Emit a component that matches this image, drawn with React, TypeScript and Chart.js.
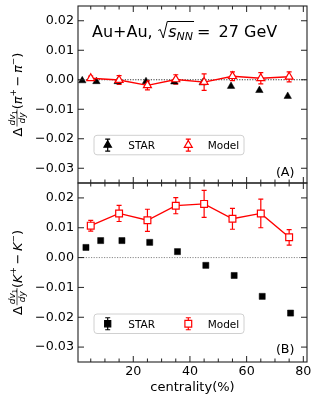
import React, { useEffect, useRef } from "react";
import { Chart, registerables } from "chart.js";
Chart.register(...registerables);

// ---------- data ----------
const centralityModel = [5, 15, 25, 35, 45, 55, 65, 75];
const centralityStarPion = [2, 7, 14.5, 24.5, 34.5, 44.5, 54.5, 64.5, 74.5];
const centralityStarKaon = [3.3, 8.5, 16, 25.8, 35.6, 45.6, 55.6, 65.5, 75.5];

const starPion = [-0.0003, -0.0006, -0.0006, -0.0006, -0.0007, -0.001, -0.0022, -0.0036, -0.0056];
const modelPion = [0.0005, -0.0001, -0.0019, 0.0001, -0.0008, 0.0012, 0.0005, 0.001];
const modelPionErr = [0.0007, 0.0015, 0.0015, 0.0016, 0.0028, 0.0015, 0.0019, 0.0017];

const starKaon = [0.0034, 0.0057, 0.0057, 0.0051, 0.002, -0.0026, -0.006, -0.013, -0.0186];
const modelKaon = [0.0107, 0.0148, 0.0125, 0.0174, 0.018, 0.013, 0.0148, 0.0068];
const modelKaonErr = [0.0018, 0.0027, 0.0037, 0.0027, 0.0045, 0.0035, 0.0048, 0.0026];

const xMinorTicks = [5, 10, 15, 20, 25, 30, 35, 40, 45, 50, 55, 60, 65, 70, 75, 80];
const xLabelTicks = [20, 40, 60, 80];
const yTicks = [-0.03, -0.02, -0.01, 0, 0.01, 0.02];

const FONT = '"DejaVu Sans", sans-serif';
Chart.defaults.font.family = FONT;

type Panel = {
  key: string;
  top: number;
  xAxisH: number;
  starX: number[];
  starY: number[];
  modelY: number[];
  modelErr: number[];
  marker: "triangle" | "rect";
  starR: number;
  modelR: number;
  showX: boolean;
  sym: string;
  tag: string;
  tagBase: number;
  legendTop: number;
  title: boolean;
  zeroColor: string;
};

function markerPath(ctx: CanvasRenderingContext2D, style: string, cx: number, cy: number, r: number) {
  ctx.beginPath();
  if (style === "triangle") {
    const s = Math.sin(Math.PI / 3) * r;
    ctx.moveTo(cx, cy - r);
    ctx.lineTo(cx + s, cy + r / 2);
    ctx.lineTo(cx - s, cy + r / 2);
    ctx.closePath();
  } else {
    const h = (r * Math.SQRT2) / 2;
    ctx.rect(cx - h, cy - h, 2 * h, 2 * h);
  }
}

function drawYLabel(ctx: CanvasRenderingContext2D, bx: number, cy: number, sym: string) {
  ctx.save();
  ctx.translate(bx, cy);
  ctx.rotate(-Math.PI / 2);
  ctx.fillStyle = "#000";
  ctx.strokeStyle = "#000";
  ctx.textBaseline = "alphabetic";
  ctx.textAlign = "left";
  const F = 13;
  const f = 9;
  const fs = 6.5;
  const fN = `${F}px ${FONT}`;
  const fI = `italic ${F}px ${FONT}`;
  const fSup = `${f}px ${FONT}`;
  const fFi = `italic ${f}px ${FONT}`;
  const fSub = `${fs}px ${FONT}`;
  const mw = (t: string, font: string) => {
    ctx.font = font;
    return ctx.measureText(t).width;
  };
  type Piece = { w: number; draw: (x: number) => void };
  const txt = (t: string, font: string, dy = 0, pad = 0): Piece => {
    const w = mw(t, font) + pad * 2;
    return {
      w,
      draw: (x) => {
        ctx.font = font;
        ctx.fillText(t, x + pad, dy);
      },
    };
  };
  const numW = mw("dv", fFi) + mw("1", fSub);
  const denW = mw("dy", fFi);
  const fw = Math.max(numW, denW) + 2;
  const barY = -4.5;
  const frac: Piece = {
    w: fw + 1,
    draw: (x) => {
      const nx = x + 1 + (fw - numW) / 2;
      ctx.font = fFi;
      ctx.fillText("dv", nx, barY - 1.8);
      const dvw = mw("dv", fFi);
      ctx.font = fSub;
      ctx.fillText("1", nx + dvw, barY - 0.2);
      ctx.font = fFi;
      ctx.fillText("dy", x + 1 + (fw - denW) / 2, barY + 1.8 + f * 0.73);
      ctx.lineWidth = 0.7;
      ctx.beginPath();
      ctx.moveTo(x + 1, barY);
      ctx.lineTo(x + 1 + fw, barY);
      ctx.stroke();
    },
  };
  const pieces: Piece[] = [
    txt("Δ", fN),
    frac,
    txt("(", fN),
    txt(sym, fI),
    txt("+", fSup, -5.5),
    txt("−", fN, 0, 2.5),
    txt(sym, fI),
    txt("−", fSup, -5.5),
    txt(")", fN),
  ];
  const W = pieces.reduce((s, p) => s + p.w, 0);
  let x = -W / 2;
  for (const p of pieces) {
    p.draw(x);
    x += p.w;
  }
  ctx.restore();
}

function drawTitle(ctx: CanvasRenderingContext2D) {
  ctx.save();
  ctx.fillStyle = "#000";
  ctx.strokeStyle = "#000";
  ctx.textBaseline = "alphabetic";
  ctx.textAlign = "left";
  const by = 36.5;
  const fN = `16px ${FONT}`;
  const fI = `italic 16px ${FONT}`;
  const fSub = `italic 11px ${FONT}`;
  let x = 92;
  ctx.font = fN;
  ctx.fillText("Au+Au,", x, by);
  x += ctx.measureText("Au+Au, ").width;
  // radical
  const rx = x + 0.5;
  const top = by - 15;
  ctx.lineWidth = 1;
  ctx.beginPath();
  ctx.moveTo(rx, by - 6);
  ctx.lineTo(rx + 2, by - 7);
  ctx.lineTo(rx + 5, by + 1.5);
  ctx.lineTo(rx + 9, top);
  const sx = rx + 10;
  ctx.font = fI;
  ctx.fillText("s", sx, by);
  const sw = ctx.measureText("s").width;
  ctx.font = fSub;
  ctx.fillText("NN", sx + sw, by + 3);
  const nw = ctx.measureText("NN").width;
  const ex = sx + sw + nw + 1;
  ctx.lineTo(ex, top);
  ctx.stroke();
  ctx.font = fN;
  ctx.fillText("=", ex + 3, by);
  const eqw = ctx.measureText("=").width;
  const gx = ex + 3 + eqw + 3;
  ctx.fillText(" 27 GeV", gx, by);
  ctx.restore();
}

function makePlugin(p: Panel) {
  return {
    id: "panel" + p.key,
    beforeDatasetsDraw(chart: any) {
      const { ctx, chartArea: a, scales } = chart;
      const xs = scales.x;
      const ys = scales.y;
      ctx.save();
      const y0 = ys.getPixelForValue(0);
      ctx.strokeStyle = p.zeroColor;
      ctx.lineWidth = 1;
      ctx.setLineDash([1.2, 1.4]);
      ctx.beginPath();
      ctx.moveTo(a.left, y0);
      ctx.lineTo(a.right, y0);
      ctx.stroke();
      ctx.setLineDash([]);
      ctx.strokeStyle = "red";
      ctx.lineWidth = 1.2;
      p.modelY.forEach((v, i) => {
        const px = xs.getPixelForValue(centralityModel[i]);
        const lo = ys.getPixelForValue(v - p.modelErr[i]);
        const hi = ys.getPixelForValue(v + p.modelErr[i]);
        ctx.beginPath();
        ctx.moveTo(px, lo);
        ctx.lineTo(px, hi);
        ctx.moveTo(px - 2.5, lo);
        ctx.lineTo(px + 2.5, lo);
        ctx.moveTo(px - 2.5, hi);
        ctx.lineTo(px + 2.5, hi);
        ctx.stroke();
      });
      ctx.restore();
    },
    afterDraw(chart: any) {
      const { ctx, chartArea: a, scales } = chart;
      const xs = scales.x;
      const ys = scales.y;
      ctx.save();
      // frame
      ctx.strokeStyle = "#222";
      ctx.lineWidth = 1.1;
      ctx.strokeRect(a.left, a.top, a.right - a.left, a.bottom - a.top);
      // ticks
      ctx.lineWidth = 1;
      ctx.beginPath();
      for (const v of xMinorTicks) {
        const px = xs.getPixelForValue(v);
        const len = v % 20 === 0 ? 6 : 3.5;
        ctx.moveTo(px, a.bottom);
        ctx.lineTo(px, a.bottom - len);
        ctx.moveTo(px, a.top);
        ctx.lineTo(px, a.top + len);
      }
      for (const v of yTicks) {
        const py = ys.getPixelForValue(v);
        ctx.moveTo(a.left, py);
        ctx.lineTo(a.left + 6, py);
        ctx.moveTo(a.right, py);
        ctx.lineTo(a.right - 6, py);
      }
      ctx.stroke();

      // legend
      const lx = 94, lw = 150, lh = 19.5, ly = p.legendTop;
      ctx.fillStyle = "rgba(255,255,255,0.85)";
      ctx.strokeStyle = "#d0d0d0";
      ctx.lineWidth = 1;
      ctx.beginPath();
      (ctx as any).roundRect(lx, ly, lw, lh, 3);
      ctx.fill();
      ctx.stroke();
      const cy = ly + lh / 2;
      const entry = (mx: number, tx: number, label: string, color: string, fill: string, r: number) => {
        ctx.strokeStyle = color;
        ctx.lineWidth = 1.2;
        ctx.beginPath();
        ctx.moveTo(mx, cy - 6);
        ctx.lineTo(mx, cy + 6);
        ctx.moveTo(mx - 2.5, cy - 6);
        ctx.lineTo(mx + 2.5, cy - 6);
        ctx.moveTo(mx - 2.5, cy + 6);
        ctx.lineTo(mx + 2.5, cy + 6);
        ctx.stroke();
        markerPath(ctx, p.marker, mx, cy, r);
        ctx.fillStyle = fill;
        ctx.fill();
        ctx.stroke();
        ctx.fillStyle = "#000";
        ctx.font = `10.5px ${FONT}`;
        ctx.textBaseline = "alphabetic";
        ctx.textAlign = "left";
        ctx.fillText(label, tx, cy + 3.9);
      };
      entry(107.7, 128.3, "STAR", "#000", "#000", p.starR);
      entry(188.3, 207.7, "Model", "red", "#fff", p.modelR);

      // panel tag
      ctx.fillStyle = "#000";
      ctx.font = `12.7px ${FONT}`;
      ctx.textAlign = "right";
      ctx.textBaseline = "alphabetic";
      ctx.fillText(p.tag, 294.5, p.tagBase);

      drawYLabel(ctx, 21.5, (a.top + a.bottom) / 2, p.sym);
      if (p.title) drawTitle(ctx);
      ctx.restore();
    },
  };
}

function fmt(v: number) {
  const n = Number(v);
  const s = Math.abs(n).toFixed(2);
  return n < -1e-9 ? "−" + s : s;
}

function makeConfig(p: Panel): any {
  return {
    type: "line",
    data: {
      datasets: [
        {
          label: "Model",
          data: centralityModel.map((c, i) => ({ x: c, y: p.modelY[i] })),
          showLine: true,
          borderColor: "red",
          borderWidth: 1.4,
          pointStyle: p.marker,
          pointRadius: p.modelR,
          pointBackgroundColor: "#fff",
          pointBorderColor: "red",
          pointBorderWidth: 1.2,
          tension: 0,
          fill: false,
        },
        {
          label: "STAR",
          data: p.starX.map((c, i) => ({ x: c, y: p.starY[i] })),
          showLine: false,
          pointStyle: p.marker,
          pointRadius: p.starR,
          pointBackgroundColor: "#000",
          pointBorderColor: "#000",
          pointBorderWidth: 0.5,
        },
      ],
    },
    options: {
      responsive: false,
      animation: false,
      devicePixelRatio: 1,
      events: [],
      layout: { padding: { left: 0, right: 12, top: p.top, bottom: 0 } },
      plugins: { legend: { display: false }, tooltip: { enabled: false } },
      scales: {
        x: {
          type: "linear",
          min: 0.5,
          max: 81.3,
          afterFit: (s: any) => {
            s.height = p.xAxisH;
            s.paddingLeft = 0;
            s.paddingRight = 0;
          },
          afterBuildTicks: (s: any) => {
            s.ticks = xLabelTicks.map((v) => ({ value: v }));
          },
          grid: { display: false, drawTicks: false },
          border: { display: false },
          ticks: {
            display: p.showX,
            padding: 2,
            color: "#000",
            maxRotation: 0,
            autoSkip: false,
            font: { size: 12.7, family: FONT },
          },
          title: {
            display: p.showX,
            text: "centrality(%)",
            color: "#000",
            font: { size: 13, family: FONT },
            padding: { top: 0, bottom: 5.6 },
          },
        },
        y: {
          type: "linear",
          min: -0.035,
          max: 0.025,
          afterFit: (s: any) => {
            s.width = 78;
            s.paddingTop = 0;
            s.paddingBottom = 0;
          },
          afterBuildTicks: (s: any) => {
            s.ticks = yTicks.map((v) => ({ value: v }));
          },
          grid: { display: false, drawTicks: false },
          border: { display: false },
          ticks: {
            padding: 4,
            color: "#000",
            font: { size: 12.7, family: FONT },
            callback: (v: any) => fmt(v),
          },
        },
      },
    },
    plugins: [makePlugin(p)],
  };
}

const panelA: Panel = {
  key: "A",
  top: 6,
  xAxisH: 401 - 183,
  starX: centralityStarPion,
  starY: starPion,
  modelY: modelPion,
  modelErr: modelPionErr,
  marker: "triangle",
  starR: 4.3,
  modelR: 4.6,
  showX: false,
  sym: "π",
  tag: "(A)",
  tagBase: 175.5,
  legendTop: 135.3,
  title: true,
  zeroColor: "#333",
};

const panelB: Panel = {
  key: "B",
  top: 183,
  xAxisH: 401 - 362,
  starX: centralityStarKaon,
  starY: starKaon,
  modelY: modelKaon,
  modelErr: modelKaonErr,
  marker: "rect",
  starR: 4.3,
  modelR: 4.8,
  showX: true,
  sym: "K",
  tag: "(B)",
  tagBase: 352.5,
  legendTop: 314,
  title: false,
  zeroColor: "#888",
};

export default function App() {
  const refA = useRef<HTMLCanvasElement>(null);
  const refB = useRef<HTMLCanvasElement>(null);
  useEffect(() => {
    const ca = new Chart(refA.current as HTMLCanvasElement, makeConfig(panelA));
    const cb = new Chart(refB.current as HTMLCanvasElement, makeConfig(panelB));
    return () => {
      ca.destroy();
      cb.destroy();
    };
  }, []);
  return (
    <div style={{ position: "fixed", left: 0, top: 0, width: 319, height: 401, background: "#fff" }}>
      <canvas ref={refA} width={319} height={401} style={{ position: "absolute", left: 0, top: 0 }} />
      <canvas ref={refB} width={319} height={401} style={{ position: "absolute", left: 0, top: 0 }} />
    </div>
  );
}
